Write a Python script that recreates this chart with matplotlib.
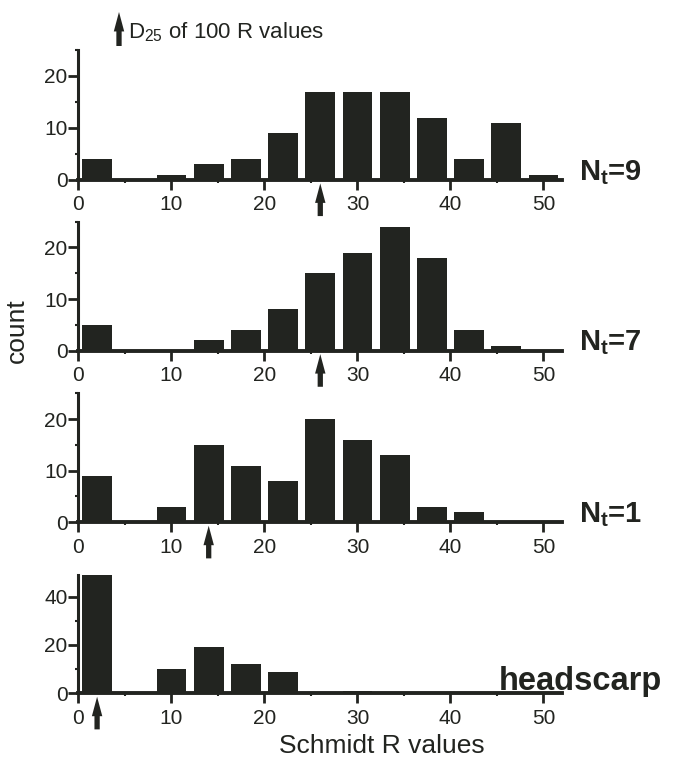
import matplotlib.pyplot as plt
from matplotlib.ticker import MultipleLocator

plt.rcParams['font.family'] = ['Liberation Sans', 'DejaVu Sans']
plt.rcParams['mathtext.fontset'] = 'custom'
plt.rcParams['mathtext.rm'] = 'Liberation Sans'
plt.rcParams['mathtext.it'] = 'Liberation Sans:italic'
plt.rcParams['mathtext.bf'] = 'Liberation Sans:bold'

# Schmidt R histogram bins (centres, width 4) and counts per survey
r_bins = [2, 6, 10, 14, 18, 22, 26, 30, 34, 38, 42, 46, 50]
counts_nt9 = [4, 0, 1, 3, 4, 9, 17, 17, 17, 12, 4, 11, 1]
counts_nt7 = [5, 0, 0, 2, 4, 8, 15, 19, 24, 18, 4, 1, 0]
counts_nt1 = [9, 0, 3, 15, 11, 8, 20, 16, 13, 3, 2, 0, 0]
counts_scarp = [49, 0, 10, 19, 12, 9, 0, 1, 0, 0, 0, 0, 0]
d25 = [26, 26, 14, 2]
panel_labels = [r'N$_{\mathbf{t}}$=9', r'N$_{\mathbf{t}}$=7',
                r'N$_{\mathbf{t}}$=1', 'headscarp']

all_counts = [counts_nt9, counts_nt7, counts_nt1, counts_scarp]
ymax = [25, 25, 25, 49]
ymajor = [10, 10, 10, 20]

ink = '#222420'
fig = plt.figure(figsize=(6.79, 7.6), dpi=100)

# axes boxes: left, bottom, width, height
boxes = [
    (0.1156, 0.7632, 0.7122, 0.1711),
    (0.1156, 0.5386, 0.7122, 0.1697),
    (0.1156, 0.3128, 0.7122, 0.1697),
    (0.1156, 0.0878, 0.7122, 0.1557),
]

arrow_kw = dict(width=3.8, headwidth=7.5, headlength=14, shrink=0,
                facecolor=ink, edgecolor='none')

for i, ax_box in enumerate(boxes):
    ax = fig.add_axes(ax_box)
    ax.bar(r_bins, all_counts[i], width=3.2, color=ink, linewidth=0, zorder=2)
    ax.set_xlim(0, 52)
    ax.set_ylim(0, ymax[i])
    ax.xaxis.set_major_locator(MultipleLocator(10))
    ax.xaxis.set_minor_locator(MultipleLocator(5))
    ax.yaxis.set_major_locator(MultipleLocator(ymajor[i]))
    ax.yaxis.set_minor_locator(MultipleLocator(ymajor[i] / 2))
    for s in ['top', 'right']:
        ax.spines[s].set_visible(False)
    ax.spines['left'].set_linewidth(2.2)
    ax.spines['bottom'].set_linewidth(2.8)
    ax.spines['left'].set_color(ink)
    ax.spines['bottom'].set_color(ink)
    ax.spines['bottom'].set_zorder(3)
    ax.tick_params(which='major', length=7, width=2, color=ink,
                   labelsize=15, labelcolor=ink)
    ax.tick_params(axis='y', which='major', pad=1)
    ax.tick_params(axis='x', which='major', pad=4)
    ax.tick_params(which='minor', length=2, width=1.5, color=ink)

    # D25 marker under the axis
    ax.annotate('', xy=(d25[i], -2.5), xycoords=('data', 'axes points'),
                xytext=(d25[i], -26), textcoords=('data', 'axes points'),
                arrowprops=arrow_kw, annotation_clip=False)

    if i < 3:
        ax.text(53.8, 0, panel_labels[i], fontsize=21, fontweight='bold',
                color=ink, va='baseline', ha='left', clip_on=False)
    else:
        ax.text(45.2, 1.5, panel_labels[i], fontsize=23.5, fontweight='bold',
                color=ink, va='baseline', ha='left', clip_on=False)

# key for the arrows
fig.add_artist(plt.Annotation(
    '', xy=(119 / 679, 1 - 12 / 760), xycoords='figure fraction',
    xytext=(119 / 679, 1 - 46 / 760), textcoords='figure fraction',
    arrowprops=arrow_kw))
fig.text(128 / 679, 1 - 38 / 760, r'D$_{25}$ of 100 R values', fontsize=16,
         color=ink, va='baseline', ha='left')

fig.text(17 / 679, 1 - 331 / 760, 'count', fontsize=19, rotation=90,
         color=ink, ha='center', va='center')
fig.text(382 / 679, 1 - 746 / 760, 'Schmidt R values', fontsize=19,
         color=ink, ha='center', va='center')

fig.savefig('out.png', dpi=100)
